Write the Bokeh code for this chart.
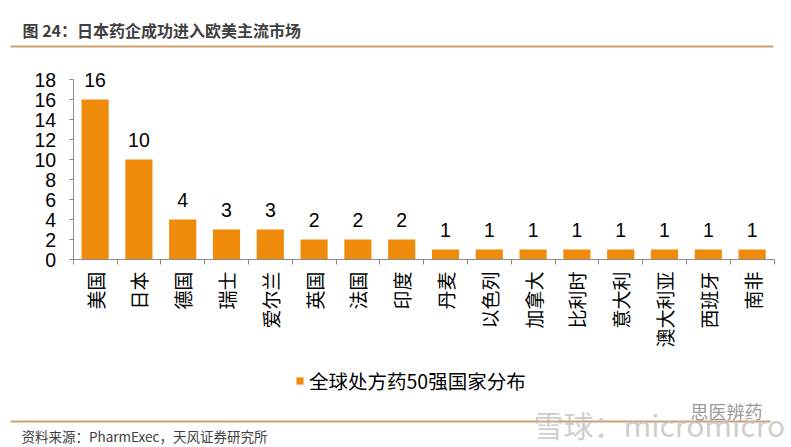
import math
import numpy as np
from bokeh.plotting import figure
from bokeh.models import (Range1d, FixedTicker, LinearAxis, Legend, LegendItem,
                          ColumnDataSource, Label, BoxAnnotation)
from bokeh.core.properties import value
from bokeh.embed import file_html
from bokeh.resources import INLINE

# ---- data ----
countries = ["美国", "日本", "德国", "瑞士", "爱尔兰", "英国", "法国", "印度",
             "丹麦", "以色列", "加拿大", "比利时", "意大利", "澳大利亚", "西班牙", "南非"]
counts = [16, 10, 4, 3, 3, 2, 2, 2, 1, 1, 1, 1, 1, 1, 1, 1]
y_ticks = [0, 2, 4, 6, 8, 10, 12, 14, 16, 18]
series_name = "全球处方药50强国家分布"
title_text = "图 24：日本药企成功进入欧美主流市场"
source_text = "资料来源：PharmExec，天风证券研究所"
watermark_1 = "雪球：micromicro"
watermark_2 = "思医辨药"

BAR = "#F08A0B"
AXIS = "#8C8C8C"
RULE = "#CDA26C"
CJK = "Noto Sans CJK SC"
NUM = "Liberation Sans"
W, H = 791, 447

n = len(countries)
centers = (np.arange(n) + 0.5).tolist()
src = ColumnDataSource(dict(x=centers, top=counts, lab=[str(v) for v in counts]))

# frame covers the whole canvas; data area: x 72.7..773.5 px, y(0)=259 px, 10 px per unit
kx = (773.5 - 72.7) / n
x0 = -72.7 / kx
x1 = n + (W - 773.5) / kx
y0 = -(H - 259) / 10.0
y1 = 259 / 10.0

p = figure(width=W, height=H, output_backend="svg", toolbar_location=None,
           x_range=Range1d(x0, x1), y_range=Range1d(y0, y1), title=None,
           x_axis_type=None, y_axis_type=None, margin=0, min_border=0)
p.outline_line_color = None
p.background_fill_color = "white"
p.border_fill_color = "white"
p.xgrid.visible = False
p.ygrid.visible = False

yax = LinearAxis(ticker=FixedTicker(ticks=y_ticks, minor_ticks=[]), bounds=(0, 18),
                 fixed_location=0)
yax.axis_line_color = AXIS
yax.major_tick_line_color = AXIS
yax.major_tick_out = 4
yax.major_tick_in = 0
yax.minor_tick_line_color = None
yax.major_label_text_font = NUM
yax.major_label_text_font_size = "19.5px"
yax.major_label_text_color = "black"
yax.major_label_standoff = 13
p.add_layout(yax, "left")

xax = LinearAxis(ticker=FixedTicker(ticks=centers, minor_ticks=list(range(n + 1))),
                 bounds=(0, n), fixed_location=0)
xax.major_label_overrides = {c: name for c, name in zip(centers, countries)}
xax.axis_line_color = AXIS
xax.major_tick_line_color = None
xax.major_tick_out = 0
xax.major_tick_in = 0
xax.minor_tick_line_color = AXIS
xax.minor_tick_out = 5
xax.minor_tick_in = 0
xax.major_label_orientation = math.pi / 2
xax.major_label_text_font = CJK
xax.major_label_text_font_size = "19px"
xax.major_label_text_color = "black"
xax.major_label_standoff = 7
p.add_layout(xax, "below")

bars = p.vbar(x="x", top="top", width=0.62, source=src, fill_color=BAR, line_color=None)
p.text(x="x", y="top", text="lab", source=src, text_align="center", text_baseline="middle",
       y_offset=-20, text_font=value(NUM), text_font_size="19.5px", text_color="black")

legend = Legend(items=[LegendItem(label=series_name, renderers=[bars])],
                location=(295, 52), orientation="horizontal",
                padding=0, margin=0, spacing=0, label_standoff=5,
                glyph_width=9, glyph_height=9, label_height=20,
                label_text_font=CJK, label_text_font_size="19.5px",
                label_text_color="black", border_line_color=None,
                background_fill_alpha=0)
p.add_layout(legend, "center")

# title, rules, source, watermark (screen px from the frame's bottom-left)
p.add_layout(Label(x=22, y=H - 29, x_units="screen", y_units="screen", text=title_text,
                   text_font=CJK, text_font_size="16px", text_font_style="bold",
                   text_color="#404040", text_baseline="middle"))
p.add_layout(BoxAnnotation(left=10, right=773, top=H - 45, bottom=H - 47,
                           left_units="screen", right_units="screen",
                           top_units="screen", bottom_units="screen",
                           fill_color=RULE, fill_alpha=1, line_color=None))
p.add_layout(BoxAnnotation(left=10, right=770, top=H - 420, bottom=H - 422,
                           left_units="screen", right_units="screen",
                           top_units="screen", bottom_units="screen",
                           fill_color=RULE, fill_alpha=1, line_color=None))
p.add_layout(Label(x=21, y=H - 435, x_units="screen", y_units="screen", text=source_text,
                   text_font=CJK, text_font_size="13.5px", text_color="#404040",
                   text_baseline="middle"))
p.add_layout(Label(x=533, y=H - 423, x_units="screen", y_units="screen", text=watermark_1,
                   text_font=CJK, text_font_size="30px", text_color="#BEBEBE", text_alpha=0.75,
                   text_baseline="middle"))
p.add_layout(Label(x=690, y=H - 410, x_units="screen", y_units="screen", text=watermark_2,
                   text_font=CJK, text_font_size="18px", text_color="#9A9A9A",
                   text_baseline="middle"))

open("out.html", "w").write(file_html(p, INLINE))
